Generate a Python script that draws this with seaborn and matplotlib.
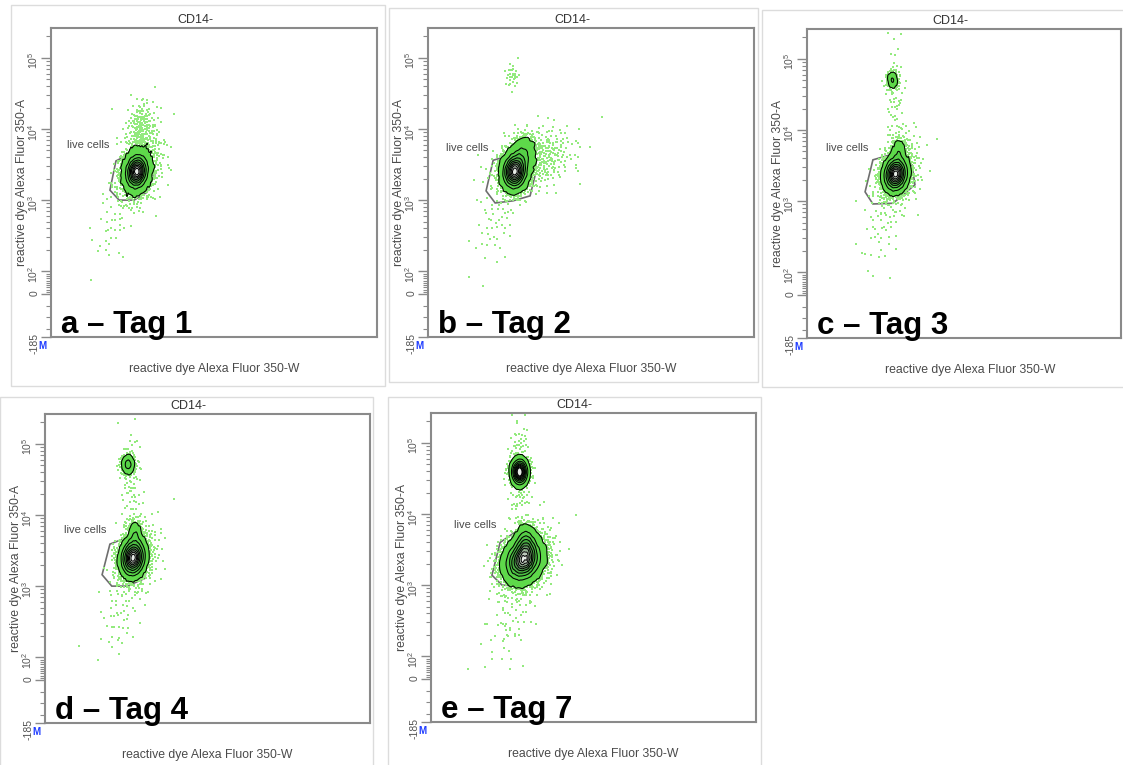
import numpy as np
import pandas as pd
import matplotlib
matplotlib.use("Agg")
import matplotlib.pyplot as plt
import seaborn as sns
from matplotlib.patches import Rectangle, Polygon
from matplotlib.ticker import FixedLocator, FixedFormatter

# ---------------------------------------------------------------- data
W_MAX = 262144          # width channel range
A_MIN, A_MAX = -185, 262144

panel_names = ["a – Tag 1", "b – Tag 2", "c – Tag 3", "d – Tag 4", "e – Tag 7"]

# event populations: panel index, centre (W), centre (log10 A), spread W,
# spread log10 A, W/A correlation, number of events
pop_panel = [0, 0, 0, 0,
             1, 1, 1, 1, 1,
             2, 2, 2, 2, 2, 2,
             3, 3, 3, 3, 3, 3,
             4, 4, 4, 4, 4, 4]
pop_w = [69000, 72500, 71500, 52000,
         69700, 76500, 84000, 57000, 67600,
         71300, 73900, 73400, 62000, 68700, 70800,
         70800, 72500, 73400, 62000, 66800, 69000,
         74200, 76000, 76000, 65500, 71300, 71300]
pop_log_a = [3.40, 4.00, 3.45, 2.75,
             3.40, 3.65, 3.55, 2.85, 4.75,
             3.38, 3.72, 3.40, 2.75, 4.70, 4.45,
             3.40, 3.75, 3.40, 2.70, 4.71, 4.45,
             3.35, 3.62, 3.35, 2.60, 4.59, 4.60]
pop_w_sd = [5000, 6000, 9500, 10000,
            5200, 5000, 16000, 10000, 3000,
            5000, 3000, 9000, 10000, 2400, 4000,
            5200, 3000, 9000, 10000, 3000, 4000,
            8500, 4500, 12000, 11000, 3800, 4500]
pop_log_sd = [0.13, 0.20, 0.25, 0.35,
              0.13, 0.13, 0.22, 0.40, 0.10,
              0.12, 0.09, 0.26, 0.40, 0.06, 0.40,
              0.13, 0.09, 0.26, 0.40, 0.07, 0.40,
              0.16, 0.12, 0.28, 0.40, 0.085, 0.35]
pop_corr = [0.1, 0.1, 0.3, 0.6,
            0.05, 0.1, 0.35, 0.5, 0.0,
            0.1, 0.0, 0.3, 0.5, 0.0, 0.0,
            0.1, 0.0, 0.3, 0.5, 0.0, 0.0,
            0.2, 0.0, 0.3, 0.5, 0.0, 0.0]
pop_events = [4000, 200, 500, 50,
              3400, 650, 450, 70, 30,
              3800, 250, 350, 60, 210, 70,
              3800, 250, 350, 60, 330, 80,
              3300, 500, 350, 80, 1100, 150]

# "live cells" gate vertices per panel (W, log10 A)
gate_w = [
    [47400, 52200, 63400, 77100, 83600, 77100, 66800, 54800],
    [46700, 52400, 66100, 86000, 82100, 68400, 54000],
    [46700, 53000, 66800, 84400, 86800, 69200, 53000],
    [45900, 52200, 66800, 82800, 80500, 66100, 53700],
    [49000, 55600, 73100, 91000, 82100, 69200, 57100],
]
gate_log_a = [
    [3.14, 3.55, 3.65, 3.63, 3.37, 3.11, 3.00, 3.00],
    [3.13, 3.56, 3.63, 3.34, 3.06, 2.99, 2.96],
    [3.13, 3.58, 3.65, 3.51, 3.23, 2.97, 2.96],
    [3.16, 3.59, 3.69, 3.57, 3.11, 3.00, 3.00],
    [3.14, 3.60, 3.81, 3.29, 3.07, 2.99, 3.00],
]
gate_label_w = [29600, 31500, 32200, 32200, 35400]
gate_label_log_a = [3.77, 3.73, 3.74, 3.79, 3.84]

# y-axis ticks
major_ticks = [-185, 0, 1e2, 1e3, 1e4, 1e5]
major_labels = ["-185", "0", "$10^2$", "$10^3$", "$10^4$", "$10^5$"]
minor_ticks = ([-150, -100, -50] + list(range(10, 100, 10))
               + [m * 10 ** k for k in (2, 3, 4) for m in range(2, 10)] + [2e5])

# ---------------------------------------------------------------- layout (pixels)
FIG_W, FIG_H = 1123, 765
axes_px = [(51, 28, 377, 337), (428, 28, 754, 337), (807, 29, 1121, 338),
           (45, 414, 370, 723), (431, 413, 756, 722)]
frame_px = [(11, 5, 385, 386), (389, 8, 758, 382), (762, 10, 1135, 387),
            (0, 397, 373, 770), (388, 397, 761, 770)]
title_x_px = [195, 572, 950, 188, 574]

# ---------------------------------------------------------------- biexponential-style display scale
LIN_T = 100.0
LIN_SLOPE = (23.0 / 71.0) / 100.0


def fwd(v):
    v = np.asarray(v, dtype=float)
    lg = np.log10(np.maximum(v, LIN_T))
    return np.where(v >= LIN_T, lg, 2.0 - (LIN_T - v) * LIN_SLOPE)


def inv(t):
    t = np.asarray(t, dtype=float)
    return np.where(t >= 2.0, 10.0 ** np.minimum(t, 12), LIN_T - (2.0 - t) / LIN_SLOPE)


def halton(n, base, start):
    idx = np.arange(start + 1, start + n + 1)
    out = np.zeros(n)
    f = 1.0
    i = idx.copy()
    while np.any(i > 0):
        f /= base
        out += f * (i % base)
        i //= base
    return out


def population_events(k, offset):
    n = pop_events[k]
    u1 = halton(n, 2, offset)
    u2 = halton(n, 3, offset)
    r = np.sqrt(-2.0 * np.log(u1))
    z1 = r * np.cos(2 * np.pi * u2)
    z2 = r * np.sin(2 * np.pi * u2)
    rho = pop_corr[k]
    zw = z1
    za = rho * z1 + np.sqrt(1 - rho ** 2) * z2
    w = pop_w[k] + pop_w_sd[k] * zw
    a = 10 ** (pop_log_a[k] + pop_log_sd[k] * za)
    return w, a


def panel_events(p):
    ws, As = [], []
    offset = 17
    for k, pp in enumerate(pop_panel):
        if pp == p:
            w, a = population_events(k, offset)
            ws.append(w)
            As.append(a)
        offset += pop_events[k] + 7
    return pd.DataFrame({"W": np.concatenate(ws), "A": np.concatenate(As)})


# ---------------------------------------------------------------- styling
sns.set_theme(style="white")
plt.rcParams["font.family"] = ["Liberation Sans", "DejaVu Sans"]
plt.rcParams["mathtext.default"] = "regular"

GRAY_TXT = "#4a4a4a"
SPINE = "#8a8a8a"
DOT = "#93ea7e"
LEVELS = [0.11, 0.28, 0.42, 0.54, 0.65, 0.74, 0.82, 0.89, 0.95, 1.0]
FILL_COLORS = ["#5ed94a", "#55cf46", "#4cc043", "#47ae40", "#4f9e4b",
               "#6c9f69", "#93b191", "#bcc9bb", "#e6eae6"]
BW = 0.45

fig = plt.figure(figsize=(FIG_W / 100, FIG_H / 100), dpi=100)


def fx(px):
    return px / FIG_W


def fy(py):
    return 1 - py / FIG_H


for p, name in enumerate(panel_names):
    l, t, r, b = frame_px[p]
    fig.add_artist(Rectangle((fx(l), fy(b)), fx(r - l), (b - t) / FIG_H,
                             transform=fig.transFigure, fill=False,
                             edgecolor="#dcdcdc", linewidth=1.0))

    l, t, r, b = axes_px[p]
    ax = fig.add_axes([fx(l), fy(b), fx(r - l), (b - t) / FIG_H])
    ax.set_facecolor("white")
    ax.set_yscale("function", functions=(fwd, inv))
    x_right = W_MAX * (r - l) / 326.0
    ax.set_xlim(0, x_right)
    ax.set_ylim(A_MIN, A_MAX)

    df = panel_events(p)

    gate = Polygon(np.column_stack([gate_w[p], 10 ** np.asarray(gate_log_a[p])]),
                   closed=True, fill=False, edgecolor="#6e6e6e", linewidth=1.2,
                   zorder=1)
    ax.add_patch(gate)

    sns.scatterplot(data=df, x="W", y="A", ax=ax, s=1.6, color=DOT,
                    linewidth=0, marker="s", legend=False, zorder=2)
    sns.kdeplot(data=df, x="W", y="A", ax=ax, fill=True, levels=LEVELS,
                color=FILL_COLORS[0], colors=FILL_COLORS, bw_adjust=BW,
                gridsize=220, zorder=3)
    sns.kdeplot(data=df, x="W", y="A", ax=ax, fill=False, levels=LEVELS,
                color="black", linewidths=0.75, bw_adjust=BW, gridsize=220,
                zorder=4)

    ax.set_xlim(0, x_right)
    ax.set_ylim(A_MIN, A_MAX)
    ax.set_xlabel("")
    ax.set_ylabel("")
    ax.set_xticks([])
    ax.yaxis.set_major_locator(FixedLocator(major_ticks))
    ax.yaxis.set_major_formatter(FixedFormatter(major_labels))
    ax.yaxis.set_minor_locator(FixedLocator(minor_ticks))
    ax.tick_params(axis="y", which="major", left=True, length=7, width=1.0,
                   color=SPINE, labelsize=7.5, labelcolor="#555555",
                   labelrotation=90, pad=1)
    ax.tick_params(axis="y", which="minor", left=True, length=3.5, width=0.8,
                   color=SPINE)
    for sp in ax.spines.values():
        sp.set_visible(True)
        sp.set_color(SPINE)
        sp.set_linewidth(1.5)

    ax.text(gate_label_w[p], 10 ** gate_label_log_a[p], "live cells",
            ha="center", va="center", fontsize=8, color=GRAY_TXT, zorder=5)
    ax.text(10.0 / (r - l), 4.0 / (b - t), name, transform=ax.transAxes,
            ha="left", va="baseline", fontsize=22.5, fontweight="bold",
            color="black", zorder=6)

    fig.text(fx(title_x_px[p]), fy(t - 8), "CD14-", ha="center", va="center",
             fontsize=9, color="#333333")
    fig.text(fx((l + r) / 2 if p != 2 else l + 163), fy(b + 32),
             "reactive dye Alexa Fluor 350-W", ha="center", va="center",
             fontsize=8.8, color=GRAY_TXT)
    fig.text(fx(l - 29), fy((t + b) / 2), "reactive dye Alexa Fluor 350-A",
             ha="center", va="center", rotation=90, fontsize=8.8,
             color=GRAY_TXT)
    fig.text(fx(l - 9), fy(b + 9), "M", ha="center", va="center",
             fontsize=7, fontweight="bold", color="#1f3cff")

fig.savefig("out.png", dpi=100, facecolor="white")
